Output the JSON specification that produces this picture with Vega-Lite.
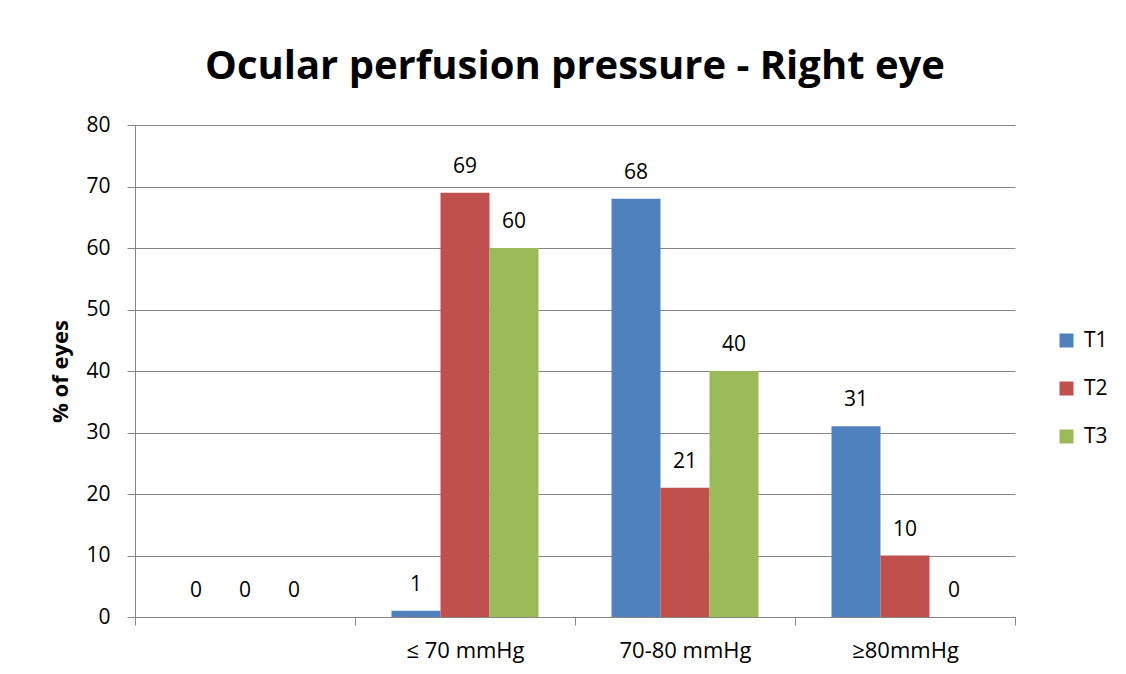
{
  "$schema": "https://vega.github.io/schema/vega-lite/v6.json",
  "width": 880,
  "height": 492,
  "autosize": {"type": "none"},
  "padding": {"left": 135, "top": 125, "right": 111, "bottom": 57},
  "background": "white",
  "title": {
    "text": "Ocular perfusion pressure - Right eye",
    "fontSize": 40,
    "font": "Open Sans",
    "fontWeight": "bold",
    "color": "black",
    "offset": 27,
    "anchor": "middle"
  },
  "data": {
    "values": [
      {"cat": " ", "series": "T1", "value": 0},
      {"cat": " ", "series": "T2", "value": 0},
      {"cat": " ", "series": "T3", "value": 0},
      {"cat": "≤ 70 mmHg", "series": "T1", "value": 1},
      {"cat": "≤ 70 mmHg", "series": "T2", "value": 69},
      {"cat": "≤ 70 mmHg", "series": "T3", "value": 60},
      {"cat": "70-80  mmHg", "series": "T1", "value": 68},
      {"cat": "70-80  mmHg", "series": "T2", "value": 21},
      {"cat": "70-80  mmHg", "series": "T3", "value": 40},
      {"cat": "≥80mmHg", "series": "T1", "value": 31},
      {"cat": "≥80mmHg", "series": "T2", "value": 10},
      {"cat": "≥80mmHg", "series": "T3", "value": 0}
    ]
  },
  "encoding": {
    "x": {
      "field": "cat",
      "type": "nominal",
      "sort": [" ", "≤ 70 mmHg", "70-80  mmHg", "≥80mmHg"],
      "scale": {"paddingInner": 0, "paddingOuter": 0},
      "axis": {
        "title": null,
        "tickBand": "extent",
        "tickSize": 8,
        "labelPadding": 15,
        "labelAngle": 0,
        "labelFontSize": 22,
        "grid": false
      }
    },
    "xOffset": {
      "field": "series",
      "type": "nominal",
      "scale": {"paddingInner": 0, "paddingOuter": 0.745}
    },
    "y": {
      "field": "value",
      "type": "quantitative",
      "scale": {"domain": [0, 80]},
      "axis": {
        "values": [0, 10, 20, 30, 40, 50, 60, 70, 80],
        "tickSize": 8,
        "labelPadding": 17,
        "title": "% of eyes",
        "titleFontSize": 22,
        "titleFontWeight": "bold",
        "titlePadding": 13,
        "titleColor": "black",
        "grid": true
      }
    }
  },
  "layer": [
    {
      "mark": {"type": "bar"},
      "encoding": {
        "color": {
          "field": "series",
          "type": "nominal",
          "scale": {"domain": ["T1", "T2", "T3"], "range": ["#4F81BD", "#C0504D", "#9BBB59"]},
          "legend": {
            "orient": "none",
            "legendX": 921,
            "legendY": 205,
            "title": null,
            "labelFontSize": 21,
            "labelFont": "Open Sans",
            "labelColor": "black",
            "symbolType": "square",
            "symbolSize": 196,
            "symbolStrokeWidth": 0,
            "rowPadding": 26,
            "labelOffset": 7
          }
        }
      }
    },
    {
      "mark": {"type": "text", "dy": -20, "baseline": "alphabetic", "fontSize": 21, "font": "Open Sans", "color": "black"},
      "encoding": {"text": {"field": "value", "type": "quantitative"}}
    }
  ],
  "config": {
    "view": {"stroke": null},
    "axis": {
      "domainColor": "#868686",
      "tickColor": "#868686",
      "gridColor": "#868686",
      "labelColor": "black",
      "labelFont": "Open Sans",
      "labelFontSize": 21,
      "titleFont": "Open Sans"
    }
  }
}
